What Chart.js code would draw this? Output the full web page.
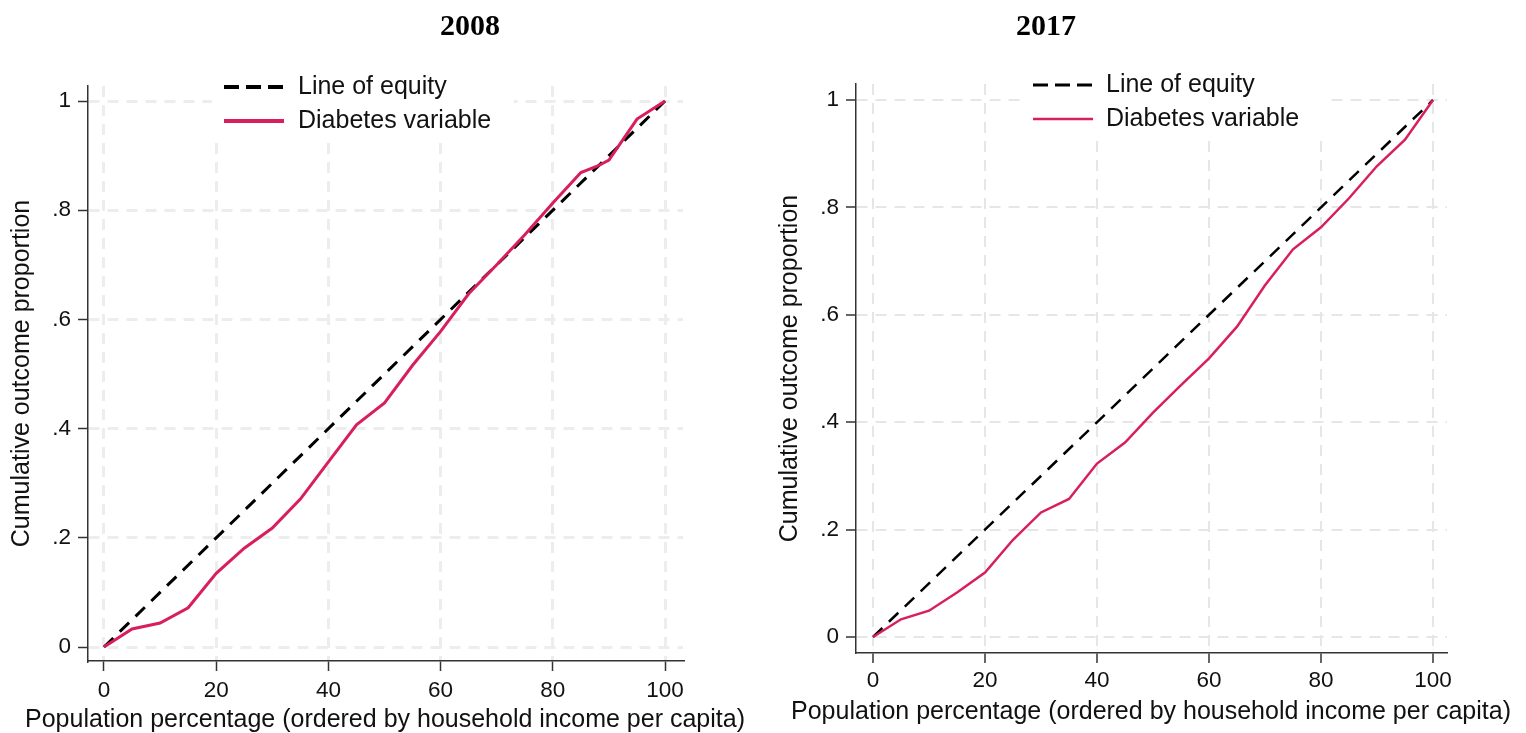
<!DOCTYPE html>
<html>
<head>
<meta charset="utf-8">
<script src="https://cdn.jsdelivr.net/npm/chart.js@4.4.1/dist/chart.umd.min.js"></script>
<style>
  html, body { margin: 0; padding: 0; background: #fff; }
  #wrap { position: relative; width: 1526px; height: 733px; overflow: hidden; }
  #c2008 { position: absolute; left: 0; top: 0; }
  #c2017 { position: absolute; left: 768px; top: 0; }
</style>
</head>
<body>
<div id="wrap">
  <canvas id="c2008" width="760" height="733"></canvas>
  <canvas id="c2017" width="758" height="733"></canvas>
</div>
<script>
// concentration curves: population share (x) vs cumulative diabetes share (y)
const pop2008 = [0, 5, 10, 15, 20, 25, 30, 35, 40, 45, 50, 55, 60, 65, 70, 75, 80, 85, 88, 90, 95, 100];
const diab2008 = [0, 0.033, 0.044, 0.072, 0.135, 0.181, 0.218, 0.271, 0.339, 0.407, 0.447, 0.516, 0.578, 0.647, 0.700, 0.755, 0.813, 0.869, 0.881, 0.892, 0.967, 1];

const pop2017 = [0, 5, 10, 15, 20, 25, 30, 35, 40, 45, 50, 55, 60, 65, 70, 75, 80, 85, 90, 95, 100];
const diab2017 = [0, 0.033, 0.049, 0.083, 0.120, 0.181, 0.232, 0.257, 0.323, 0.362, 0.418, 0.469, 0.519, 0.578, 0.655, 0.722, 0.763, 0.817, 0.877, 0.926, 1];

const equityX = [0, 100];
const equityY = [0, 1];

const xTicks = [0, 20, 40, 60, 80, 100];
const yTicks = [0, 0.2, 0.4, 0.6, 0.8, 1];
const yTickLabels = ['0', '.2', '.4', '.6', '.8', '1'];

const seriesNames = ['Line of equity', 'Diabetes variable'];
const xTitle = 'Population percentage (ordered by household income per capita)';
const yTitle = 'Cumulative outcome proportion';

const PINK = '#d81f5c';
const SANS = '"Liberation Sans", Arial, Helvetica, sans-serif';

Chart.defaults.font.family = SANS;
Chart.defaults.color = '#111';

function toPoints(xs, ys) {
    return xs.map((x, i) => ({ x: x, y: ys[i] }));
}

// legend drawn inside the plot region, on a white box over the grid
const insideLegend = {
    id: 'insideLegend',
    beforeDatasetsDraw(chart, args, opts) {
        const ctx = chart.ctx;
        ctx.save();
        ctx.fillStyle = '#fff';
        ctx.fillRect(opts.box[0], opts.box[1], opts.box[2], opts.box[3]);
        chart.data.datasets.forEach((ds, i) => {
            const y = opts.rowY[i];
            ctx.beginPath();
            ctx.setLineDash(i === 0 ? opts.sampleDash : []);
            ctx.lineWidth = opts.sampleWidth[i];
            ctx.strokeStyle = ds.borderColor;
            ctx.moveTo(opts.x0, y);
            ctx.lineTo(opts.x1, y);
            ctx.stroke();
            ctx.setLineDash([]);
            ctx.fillStyle = '#111';
            ctx.font = '25px ' + SANS;
            ctx.textBaseline = 'middle';
            ctx.textAlign = 'left';
            ctx.fillText(ds.label, opts.textX, y);
        });
        ctx.restore();
    }
};

// panel heading and the x-axis title (wider than the axis itself, so drawn here)
const panelText = {
    id: 'panelText',
    afterDraw(chart, args, opts) {
        const ctx = chart.ctx;
        ctx.save();
        ctx.textAlign = 'center';
        ctx.textBaseline = 'middle';
        ctx.font = 'bold 30px "Liberation Serif", "Times New Roman", serif';
        ctx.fillStyle = '#000';
        ctx.fillText(opts.text, opts.x, opts.y);
        ctx.font = '25px ' + SANS;
        ctx.fillStyle = '#111';
        ctx.fillText(xTitle, opts.xtX, opts.xtY);
        ctx.restore();
    }
};

function makeChart(id, p) {
    return new Chart(document.getElementById(id).getContext('2d'), {
        type: 'scatter',
        data: {
            datasets: [{
                label: seriesNames[0],
                data: toPoints(equityX, equityY),
                showLine: true,
                borderColor: '#000',
                borderWidth: p.dashWidth,
                borderDash: p.dash,
                pointRadius: 0,
                order: 2
            }, {
                label: seriesNames[1],
                data: toPoints(p.xs, p.ys),
                showLine: true,
                borderColor: PINK,
                borderWidth: p.lineWidth,
                pointRadius: 0,
                order: 1
            }]
        },
        options: {
            responsive: false,
            animation: false,
            devicePixelRatio: 1,
            layout: { padding: { top: p.top, right: p.right, left: 0, bottom: 0 } },
            plugins: {
                legend: { display: false },
                tooltip: { enabled: false },
                insideLegend: p.legend,
                panelText: p.text
            },
            scales: {
                x: {
                    type: 'linear',
                    min: p.xMin,
                    max: p.xMax,
                    afterBuildTicks: (s) => { s.ticks = xTicks.map(v => ({ value: v })); },
                    afterFit: (s) => { s.height = p.xHeight; },
                    ticks: { font: { size: 22.5 }, padding: p.xPad, maxRotation: 0, color: '#111' },
                    grid: {
                        color: p.gridColor, lineWidth: p.gridWidth,
                        tickLength: 10, tickColor: '#333', tickWidth: 1.5, tickBorderDash: []
                    },
                    border: { display: true, color: '#333', width: 1.5, dash: [11, 8] },
                    title: { display: false }
                },
                y: {
                    type: 'linear',
                    min: p.yMin,
                    max: p.yMax,
                    afterBuildTicks: (s) => { s.ticks = yTicks.map(v => ({ value: v })); },
                    afterFit: (s) => { s.width = 88; },
                    ticks: {
                        font: { size: 22.5 }, padding: 7, color: '#111',
                        callback: (v, i) => yTickLabels[i]
                    },
                    grid: {
                        color: p.gridColor, lineWidth: p.gridWidth,
                        tickLength: 10, tickColor: '#333', tickWidth: 1.5, tickBorderDash: []
                    },
                    border: { display: true, color: '#333', width: 1.5, dash: [11, 8] },
                    title: {
                        display: true, text: yTitle,
                        font: { size: 25, lineHeight: 1 },
                        padding: { top: 10, bottom: 0 }, color: '#111'
                    }
                }
            }
        },
        plugins: [insideLegend, panelText]
    });
}

makeChart('c2008', {
    xs: pop2008, ys: diab2008,
    lineWidth: 3, dashWidth: 3, dash: [13, 9],
    gridColor: '#ededed', gridWidth: 3,
    top: 86, right: 77, xHeight: 72, xPad: 6,
    xMin: -2.85, xMax: 103.2, yMin: -0.0256, yMax: 1.0275,
    text: { text: '2008', x: 470, y: 27, xtX: 385, xtY: 720 },
    legend: {
        box: [212, 60, 302, 83], rowY: [87, 121], x0: 224, x1: 284, textX: 298,
        sampleDash: [15, 7], sampleWidth: [4, 4]
    }
});

makeChart('c2017', {
    xs: pop2017, ys: diab2017,
    lineWidth: 2.5, dashWidth: 2.5, dash: [13, 9],
    gridColor: '#e6e6e6', gridWidth: 2,
    top: 84, right: 79, xHeight: 80, xPad: 4,
    xMin: -3.04, xMax: 102.5, yMin: -0.0298, yMax: 1.0298,
    text: { text: '2017', x: 278, y: 27, xtX: 383, xtY: 712 },
    legend: {
        box: [252, 58, 304, 82], rowY: [85, 119], x0: 265, x1: 325, textX: 338,
        sampleDash: [15, 7], sampleWidth: [3, 2.5]
    }
});
</script>
</body>
</html>
